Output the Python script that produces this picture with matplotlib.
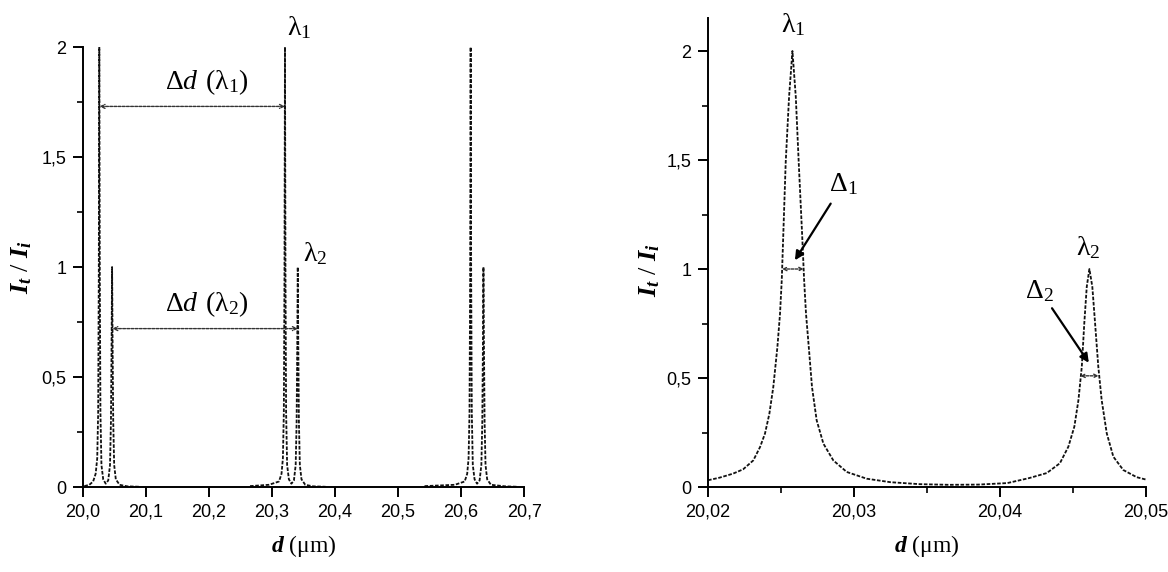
import numpy as np
import matplotlib
matplotlib.use("Agg")
import matplotlib.pyplot as plt
from matplotlib.ticker import FixedLocator, FuncFormatter

plt.rcParams["font.family"] = ["Liberation Sans", "DejaVu Sans"]
plt.rcParams["mathtext.fontset"] = "custom"
plt.rcParams["mathtext.rm"] = "Liberation Serif"
plt.rcParams["mathtext.it"] = "Liberation Serif:italic"
plt.rcParams["mathtext.bf"] = "Liberation Serif:bold"
plt.rcParams["mathtext.bfit"] = "Liberation Serif:bold:italic"

# ---- data ----
# left panel: three groups of (lambda1, lambda2) transmission spikes
spike_y = [0.004, 0.010, 0.025, 0.060, 0.130, 0.340, 0.950, 2.000, 0.950, 0.340,
           0.100, 0.035, 0.015, 0.030, 0.100, 0.300, 0.650, 1.000, 0.650, 0.300,
           0.100, 0.035, 0.010, 0.003, 0.001]
group1_x = [20.0020, 20.0100, 20.0160, 20.0200, 20.0225, 20.0240, 20.0250, 20.0258, 20.0266, 20.0276,
            20.0292, 20.0320, 20.0360, 20.0400, 20.0428, 20.0443, 20.0453, 20.0461, 20.0469, 20.0479,
            20.0494, 20.0520, 20.0580, 20.0700, 20.0900]
group2_x = [20.2650, 20.2950, 20.3110, 20.3150, 20.3172, 20.3187, 20.3197, 20.3205, 20.3213, 20.3223,
            20.3239, 20.3267, 20.3307, 20.3347, 20.3375, 20.3390, 20.3400, 20.3408, 20.3416, 20.3426,
            20.3441, 20.3467, 20.3527, 20.3650, 20.3850]
group3_x = [20.5420, 20.5900, 20.6057, 20.6097, 20.6119, 20.6134, 20.6144, 20.6152, 20.6160, 20.6170,
            20.6186, 20.6214, 20.6254, 20.6294, 20.6322, 20.6337, 20.6347, 20.6355, 20.6363, 20.6373,
            20.6388, 20.6414, 20.6474, 20.6700, 20.6900]

# right panel: zoom on the first pair of peaks
zoom_x = [20.0200, 20.0208, 20.0217, 20.0224, 20.0231, 20.02356, 20.0239, 20.0242, 20.02447, 20.02475,
          20.02493, 20.02505, 20.02515, 20.02532, 20.02555, 20.02578, 20.02601, 20.02621, 20.02645, 20.02658,
          20.02671, 20.0269, 20.02712, 20.02744, 20.0279, 20.02858, 20.0295, 20.03087, 20.0325, 20.0345,
          20.0365, 20.0385, 20.0405, 20.0420, 20.0432, 20.0441, 20.04468, 20.04509, 20.04537, 20.0456,
          20.04577, 20.04594, 20.04612, 20.04632, 20.04651, 20.04673, 20.04696, 20.04731, 20.04776, 20.04844,
          20.04936, 20.0500]
zoom_y = [0.031, 0.043, 0.061, 0.081, 0.122, 0.183, 0.245, 0.336, 0.459, 0.642,
          0.795, 0.950, 1.150, 1.490, 1.790, 2.000, 1.790, 1.490, 1.150, 0.950,
          0.795, 0.642, 0.459, 0.306, 0.199, 0.122, 0.069, 0.038, 0.022, 0.013,
          0.010, 0.011, 0.018, 0.041, 0.064, 0.109, 0.185, 0.277, 0.399, 0.552,
          0.751, 0.919, 1.000, 0.919, 0.751, 0.552, 0.399, 0.246, 0.139, 0.078,
          0.045, 0.034]

# free spectral range markers (left) and half-width markers (right)
fsr1 = (20.0262, 20.3205, 1.73)
fsr2 = (20.0465, 20.3410, 0.72)
hw1 = (20.02507, 20.02655, 1.0)
hw2 = (20.04550, 20.04675, 0.51)

left_xticks = [20.0, 20.1, 20.2, 20.3, 20.4, 20.5, 20.6, 20.7]
right_xticks = [20.02, 20.03, 20.04, 20.05]
right_xminor = [20.025, 20.035, 20.045]
yticks = [0, 0.5, 1, 1.5, 2]
yminor = [0.25, 0.75, 1.25, 1.75]

LINE = dict(color="#111111", linestyle=(0, (2.0, 0.9)), linewidth=1.3)
SERIF = "Liberation Serif"
NOTE = 20


def comma_fmt(v, _pos):
    s = f"{v:.3f}".rstrip("0").rstrip(".")
    return s.replace(".", ",")


def style_axes(ax, xdec):
    for side in ("top", "right"):
        ax.spines[side].set_visible(False)
    for side in ("left", "bottom"):
        ax.spines[side].set_linewidth(1.4)
    ax.tick_params(which="major", direction="out", length=7, width=1.4, labelsize=13, pad=5)
    ax.tick_params(which="minor", direction="out", length=4.5, width=1.2)
    ax.yaxis.set_major_locator(FixedLocator(yticks))
    ax.yaxis.set_minor_locator(FixedLocator(yminor))
    ax.yaxis.set_major_formatter(FuncFormatter(comma_fmt))
    ax.xaxis.set_major_formatter(FuncFormatter(lambda v, p: f"{v:.{xdec}f}".replace(".", ",")))
    ax.set_xlabel(r"$\mathbfit{d}$ (μm)", fontsize=17, family=SERIF, labelpad=9)
    ax.set_ylabel(r"$\mathbfit{I}_{\mathbfit{t}}\ /\ \mathbfit{I}_{\mathbfit{i}}$", fontsize=19)


def double_arrow(ax, x0, x1, y, scale=7):
    ax.annotate("", xy=(x0, y), xytext=(x1, y),
                arrowprops=dict(arrowstyle="<->", color="#333333", lw=1.0,
                                linestyle=(0, (2, 1)), mutation_scale=scale,
                                shrinkA=0, shrinkB=0))


fig = plt.figure(figsize=(11.68, 5.72), dpi=100)
ax1 = fig.add_axes([0.0711, 0.1486, 0.3776, 0.7692])
ax2 = fig.add_axes([0.6062, 0.1486, 0.3750, 0.8194])

# ---- left panel ----
for gx in (group1_x, group2_x, group3_x):
    ax1.plot(gx, spike_y, **LINE)
ax1.set_xlim(20.0, 20.7)
ax1.set_ylim(0, 2)
ax1.xaxis.set_major_locator(FixedLocator(left_xticks))
style_axes(ax1, 1)
ax1.yaxis.set_label_coords(-0.112, 0.5)

double_arrow(ax1, fsr1[0], fsr1[1], fsr1[2])
double_arrow(ax1, fsr2[0], fsr2[1], fsr2[2])
ax1.text(20.197, 1.84, r"$\mathrm{\Delta}\mathit{d}\;\,(\mathrm{\lambda}_1)$", fontsize=NOTE,
         ha="center", va="center")
ax1.text(20.197, 0.83, r"$\mathrm{\Delta}\mathit{d}\;\,(\mathrm{\lambda}_2)$", fontsize=NOTE,
         ha="center", va="center")
ax1.text(20.343, 2.09, r"$\mathrm{\lambda}_1$", fontsize=NOTE, ha="center", va="center", clip_on=False)
ax1.text(20.369, 1.06, r"$\mathrm{\lambda}_2$", fontsize=NOTE, ha="center", va="center")

# ---- right panel ----
ax2.plot(zoom_x, zoom_y, **LINE)
ax2.set_xlim(20.02, 20.05)
ax2.set_ylim(0, 2.15)
ax2.xaxis.set_major_locator(FixedLocator(right_xticks))
ax2.xaxis.set_minor_locator(FixedLocator(right_xminor))
style_axes(ax2, 2)
ax2.yaxis.set_label_coords(-0.105, 0.463)

double_arrow(ax2, hw1[0], hw1[1], hw1[2], scale=6)
double_arrow(ax2, hw2[0], hw2[1], hw2[2], scale=6)
ax2.text(20.02582, 2.12, r"$\mathrm{\lambda}_1$", fontsize=NOTE, ha="center", va="center")
ax2.text(20.04603, 1.10, r"$\mathrm{\lambda}_2$", fontsize=NOTE, ha="center", va="center")

arrow_kw = dict(arrowstyle="-|>", color="black", lw=1.6, mutation_scale=13, shrinkA=0, shrinkB=0)
ax2.annotate("", xy=(20.02595, 1.04), xytext=(20.0284, 1.30), arrowprops=arrow_kw)
ax2.annotate("", xy=(20.04608, 0.57), xytext=(20.04356, 0.82), arrowprops=arrow_kw)
ax2.text(20.02925, 1.39, r"$\mathrm{\Delta}_1$", fontsize=NOTE, ha="center", va="center")
ax2.text(20.0427, 0.90, r"$\mathrm{\Delta}_2$", fontsize=NOTE, ha="center", va="center")

fig.savefig("out.png", dpi=100)
